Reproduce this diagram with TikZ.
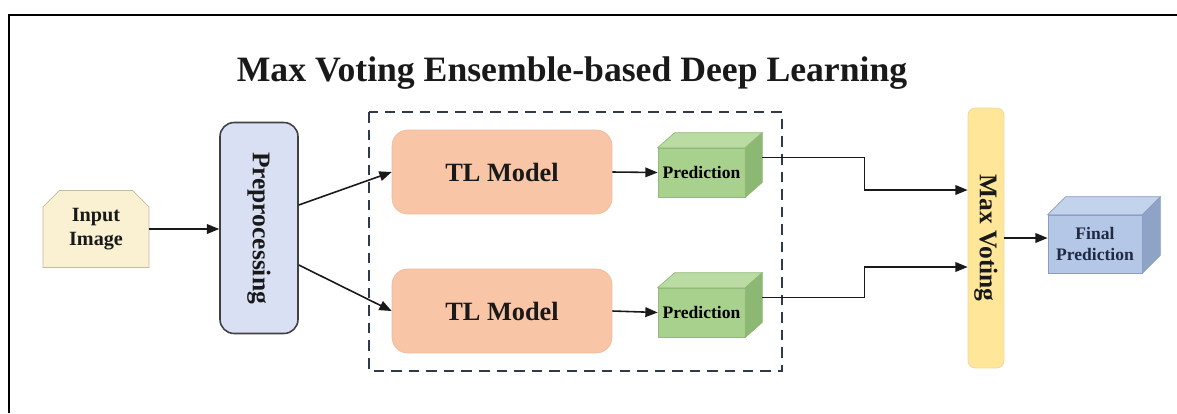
\documentclass[tikz,border=0pt]{standalone}
\usepackage{fontspec}
\setmainfont{Liberation Serif}
\usetikzlibrary{arrows.meta,shapes.misc,calc}
\definecolor{inputfill}{HTML}{FAF0D2}
\definecolor{inputline}{HTML}{C2BB9E}
\definecolor{prepfill}{HTML}{DAE0F3}
\definecolor{tlfill}{HTML}{F8C6A6}
\definecolor{tlline}{HTML}{EFBC9E}
\definecolor{predfront}{HTML}{A9D18E}
\definecolor{predtop}{HTML}{BADBA2}
\definecolor{predside}{HTML}{8DB873}
\definecolor{predline}{HTML}{93B97A}
\definecolor{votefill}{HTML}{FFE699}
\definecolor{voteline}{HTML}{EAD8A0}
\definecolor{finalfront}{HTML}{B4C7E7}
\definecolor{finaltop}{HTML}{C4D3EC}
\definecolor{finalside}{HTML}{8FA3C7}
\definecolor{finalline}{HTML}{8B9DC2}
\definecolor{dashline}{HTML}{2F3A4F}
\begin{document}
\begin{tikzpicture}[x=0.02cm,y=-0.02cm,
  arr/.style={-{Triangle[length=7pt,width=5.5pt]},line width=0.9pt,black!90},
  lbl/.style={font=\bfseries,text=black!90,align=center,inner sep=0pt}]
\useasboundingbox (0,0) rectangle (1177,413);
% frame and title
\draw[line width=1.2pt] (9,413) -- (9,15) -- (1177,15);
\node[lbl,anchor=base,font=\fontsize{20.3}{24}\bfseries] (title) at (572,81) {Max Voting Ensemble-based Deep Learning};
% ensemble box
\draw[dashline,line width=1pt,dash pattern=on 6pt off 4pt] (369,112) rectangle (782,371);
% input and preprocessing
\node[lbl,chamfered rectangle,chamfered rectangle corners={north west,north east},chamfered rectangle xsep=0.22cm,
  fill=inputfill,draw=inputline,minimum width=2.12cm,minimum height=1.54cm,font=\fontsize{11.5}{13.6}\bfseries] (input) at (96,229) {Input\\Image};
\node[lbl,rounded corners=8pt,fill=prepfill,draw=black!75,line width=0.9pt,minimum width=1.56cm,minimum height=4.22cm,
  font=\fontsize{14.5}{17}\bfseries] (prep) at (259,228) {\rotatebox{-90}{Preprocessing}};
% TL models
\node[lbl,rounded corners=9pt,fill=tlfill,draw=tlline,minimum width=4.4cm,minimum height=1.68cm,font=\fontsize{15}{18}\bfseries] (tl1) at (502,172) {TL Model};
\node[lbl,rounded corners=9pt,fill=tlfill,draw=tlline,minimum width=4.4cm,minimum height=1.68cm,font=\fontsize{15}{18}\bfseries] (tl2) at (502,311) {TL Model};
% predictions
\node[lbl,fill=predfront,draw=predline,minimum width=1.74cm,minimum height=0.98cm,font=\fontsize{10}{12}\bfseries,text=black] (pred1) at (701.5,172.5) {Prediction};
\node[lbl,fill=predfront,draw=predline,minimum width=1.74cm,minimum height=0.98cm,font=\fontsize{10}{12}\bfseries,text=black] (pred2) at (701.5,312.5) {Prediction};
\foreach \p in {pred1,pred2}{
  \filldraw[fill=predtop,draw=predline] (\p.north west) -- ++(17,-15) -- ($(\p.north east)+(17,-15)$) -- (\p.north east) -- cycle;
  \filldraw[fill=predside,draw=predline] (\p.north east) -- ++(17,-15) -- ($(\p.south east)+(17,-15)$) -- (\p.south east) -- cycle;
}
\coordinate (p1out) at ($(pred1.east)+(17,-15)$);
\coordinate (p2out) at ($(pred2.east)+(17,-15)$);
% max voting and final
\node[lbl,rounded corners=4pt,fill=votefill,draw=voteline,minimum width=0.72cm,minimum height=5.2cm,
  font=\fontsize{14.5}{17}\bfseries] (vote) at (986,238) {\rotatebox{-90}{Max Voting}};
\node[lbl,fill=finalfront,draw=finalline,minimum width=1.88cm,minimum height=1.16cm,font=\fontsize{10}{12.5}\bfseries,text={rgb,255:red,31;green,42;blue,68}] (final) at (1095,244) {Final\\Prediction};
\filldraw[fill=finaltop,draw=finalline] (final.north west) -- ++(18,-18) -- ($(final.north east)+(18,-18)$) -- (final.north east) -- cycle;
\filldraw[fill=finalside,draw=finalline] (final.north east) -- ++(18,-18) -- ($(final.south east)+(18,-18)$) -- (final.south east) -- cycle;
% connectors
\draw[arr] (input.east) -- (input.east -| prep.west);
\draw[arr] ($(prep.east)+(0,-23)$) -- (tl1.west);
\draw[arr] ($(prep.east)+(0,37)$) -- (tl2.west);
\draw[arr] (tl1.east) -- (pred1.west);
\draw[arr] (tl2.east) -- (pred2.west);
\draw[arr] (p1out) -- ++(102,0) |- ($(vote.west)+(0,-48)$);
\draw[arr] (p2out) -- ++(102,0) |- ($(vote.west)+(0,29)$);
\draw[arr] (vote.east) -- (vote.east -| final.west);
\end{tikzpicture}
\end{document}
